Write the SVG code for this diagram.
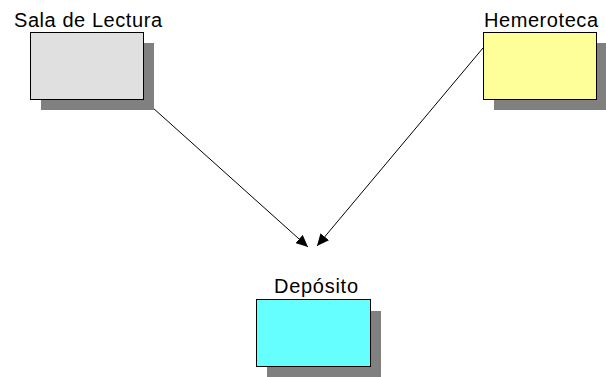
<svg xmlns="http://www.w3.org/2000/svg" width="606" height="377" viewBox="0 0 606 377">
<style>
.shadow{fill:#808080;stroke:none}
.box{stroke:#000;stroke-width:1}
.lbl{font-family:"Liberation Sans",Arial,sans-serif;font-size:20px;fill:#000;text-anchor:middle}
.edge{stroke:#000;stroke-width:1;fill:none}
</style>
<defs>
<marker id="arr" markerWidth="12" markerHeight="11" refX="12" refY="5.5" orient="auto" markerUnits="userSpaceOnUse">
<path d="M0,0 L12,5.5 L0,11 Z" fill="#000"/>
</marker>
</defs>
<rect width="606" height="377" fill="#fff"/>
<g id="connectors">
<line class="edge" x1="143" y1="99" x2="308" y2="247" marker-end="url(#arr)"/>
<line class="edge" x1="483" y1="48" x2="317" y2="246" marker-end="url(#arr)"/>
</g>
<g id="sala">
<rect class="shadow" x="41" y="43" width="113" height="67"/>
<rect class="box" x="30.5" y="32.5" width="113" height="67" fill="#e0e0e0"/>
<text class="lbl" x="88" y="26.5" textLength="148" lengthAdjust="spacing">Sala de Lectura</text>
</g>
<g id="hemeroteca">
<rect class="shadow" x="494" y="43" width="113" height="67"/>
<rect class="box" x="483.5" y="32.5" width="113" height="67" fill="#ffff99"/>
<text class="lbl" x="541" y="26.5" textLength="114" lengthAdjust="spacing">Hemeroteca</text>
</g>
<g id="deposito">
<rect class="shadow" x="267" y="311" width="114" height="67"/>
<rect class="box" x="256.5" y="299.5" width="114" height="67" fill="#66ffff"/>
<text class="lbl" x="316" y="292.5" textLength="84" lengthAdjust="spacing">Depósito</text>
</g>
</svg>
